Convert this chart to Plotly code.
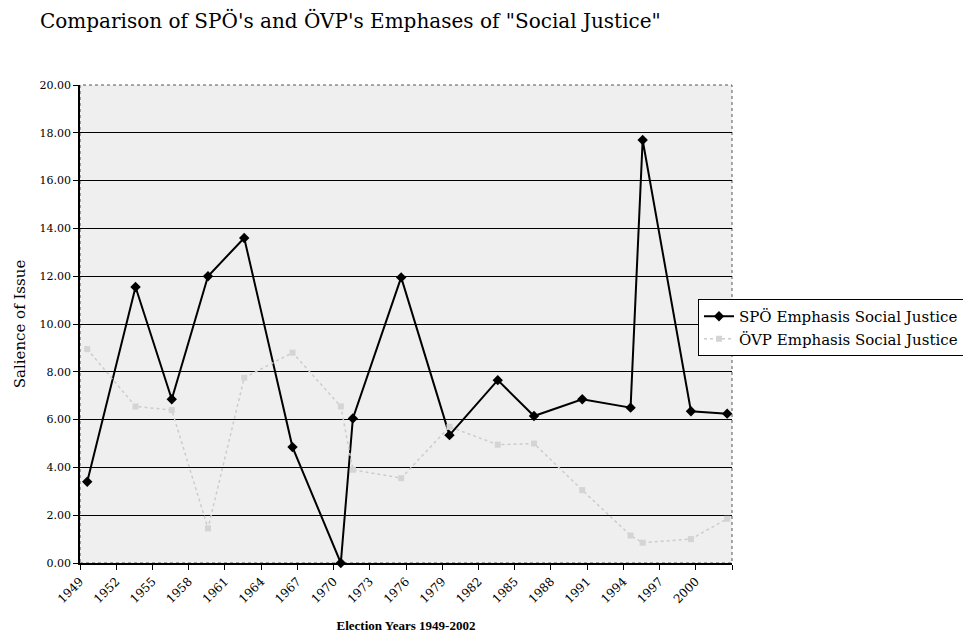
import plotly.graph_objects as go

# Election years (Austrian National Council elections)
years = [1949, 1953, 1956, 1959, 1962, 1966, 1970, 1971, 1975, 1979,
         1983, 1986, 1990, 1994, 1995, 1999, 2002]
spo = [3.40, 11.55, 6.85, 12.00, 13.60, 4.85, 0.00, 6.05, 11.95, 5.35,
       7.65, 6.15, 6.85, 6.50, 17.70, 6.35, 6.25]
ovp = [8.95, 6.55, 6.40, 1.45, 7.75, 8.80, 6.55, 3.90, 3.55, 5.70,
       4.95, 5.00, 3.05, 1.15, 0.85, 1.00, 1.85]
tick_years = list(range(1949, 2004, 3))
tick_labels = [str(y) if y <= 2000 else "" for y in tick_years]

# date axis with yearly base unit: points sit inside the year interval
xpos = [y + 0.6 for y in years]

serif = "DejaVu Serif, Liberation Serif, serif"
times = "Liberation Serif, serif"

fig = go.Figure()
fig.add_trace(go.Scatter(
    x=xpos, y=spo, mode="lines+markers", name="SPÖ Emphasis Social Justice",
    line=dict(color="black", width=2), cliponaxis=False,
    marker=dict(symbol="diamond", size=8, color="black")))
fig.add_trace(go.Scatter(
    x=xpos, y=ovp, mode="lines+markers", name="ÖVP Emphasis Social Justice",
    line=dict(color="#cccccc", width=1.5, dash="dot"), cliponaxis=False,
    marker=dict(symbol="square", size=6, color="#d4d4d4")))

fig.add_shape(type="rect", xref="x domain", yref="y domain", x0=0, x1=1, y0=0, y1=1,
              line=dict(color="#555555", width=1, dash="dot"), layer="below")

fig.update_layout(
    width=963, height=643,
    margin=dict(l=80, r=231, t=85, b=80, autoexpand=False),
    paper_bgcolor="white", plot_bgcolor="#efefef",
    font=dict(family=serif, color="black", size=11),
    title=dict(text='Comparison of SPÖ\'s and ÖVP\'s Emphases of "Social Justice"',
               x=40/963, xanchor="left", xref="container",
               y=1-21/643, yanchor="middle", yref="container",
               font=dict(family=serif, size=20, color="black")),
    legend=dict(x=698/963, y=1-299/643, xref="container", yref="container",
                xanchor="left", yanchor="top",
                bgcolor="white", bordercolor="black", borderwidth=1,
                font=dict(family=serif, size=15, color="black"),
                tracegroupgap=0, itemwidth=30),
    showlegend=True,
)
fig.update_xaxes(range=[1949, 2003], tickvals=tick_years, ticktext=tick_labels,
                 tickangle=-45, ticks="outside", ticklen=5, tickcolor="black",
                 showline=True, linecolor="black", linewidth=1.5, showgrid=False,
                 zeroline=False, tickfont=dict(size=12, family=serif),
                 title=dict(text="<b>Election Years 1949-2002</b>", standoff=16,
                            font=dict(size=13, family=times)))
fig.update_yaxes(range=[0, 20], dtick=2, tickformat=".2f",
                 ticks="outside", ticklen=5, tickcolor="black",
                 showline=True, linecolor="black", linewidth=1.5,
                 showgrid=True, gridcolor="black", gridwidth=1, zeroline=False,
                 tickfont=dict(size=11, family=serif),
                 title=dict(text="Salience of Issue", standoff=10,
                            font=dict(size=15, family=serif)))

fig.write_html("out.html")
